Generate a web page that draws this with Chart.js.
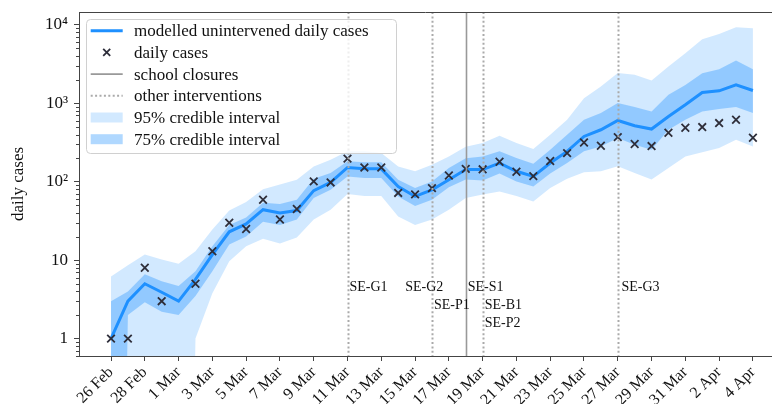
<!DOCTYPE html>
<html>
<head>
<meta charset="utf-8">
<script src="https://cdn.jsdelivr.net/npm/chart.js@4.4.1/dist/chart.umd.min.js"></script>
<style>
  html, body { margin: 0; padding: 0; background: #ffffff; }
</style>
</head>
<body>
<canvas id="chart" width="772" height="404"></canvas>
<script>
// Days from 26 Feb to 4 Apr 2020 (x = day index)
const dates = [
  "26 Feb", "27 Feb", "28 Feb", "29 Feb",
  "1 Mar", "2 Mar", "3 Mar", "4 Mar", "5 Mar", "6 Mar", "7 Mar", "8 Mar",
  "9 Mar", "10 Mar", "11 Mar", "12 Mar", "13 Mar", "14 Mar", "15 Mar", "16 Mar",
  "17 Mar", "18 Mar", "19 Mar", "20 Mar", "21 Mar", "22 Mar", "23 Mar", "24 Mar",
  "25 Mar", "26 Mar", "27 Mar", "28 Mar", "29 Mar", "30 Mar", "31 Mar",
  "1 Apr", "2 Apr", "3 Apr", "4 Apr",
];
const xTickDays = [0, 2, 4, 6, 8, 10, 12, 14, 16, 18, 20, 22, 24, 26, 28, 30, 32, 34, 36, 38];

const yTicks = [1, 10, 100, 1000, 10000];
const yTickLabels = ["1", "10", "10²", "10³", "10⁴"];

// observed daily cases (0 = nothing shown on the log axis)
const dailyCases = [
  1, 1, 8, 3, 0, 5, 13, 30, 25, 59, 33, 45, 101, 98, 197, 152, 152, 72, 69, 83,
  120, 146, 144, 180, 134, 118, 184, 232, 317, 288, 371, 303, 285, 421, 488, 498,
  560, 617, 364,
];

// modelled unintervened daily cases (median)
const modelMedian = [
  1.0, 3.0, 5.0, 3.9, 3.0, 5.7, 11.8, 23, 29, 44, 40, 43, 77, 98, 152, 146, 146, 87, 65, 79,
  106, 143, 143, 173, 136, 117, 173, 244, 378, 460, 604, 517, 470, 680, 957, 1371,
  1442, 1718, 1455,
];

// 75% credible interval
const ci75Upper = [
  3.0, 4.0, 6.6, 5.4, 4.7, 7.2, 15, 28, 35, 54, 52, 59, 109, 129, 182, 177, 177, 106, 83, 101,
  150, 200, 210, 244, 201, 170, 256, 398, 617, 750, 1006, 895, 787, 1282, 1718, 2421,
  2723, 3508, 2723,
];
const ci75Lower = [
  0, 2.0, 2.9, 2.2, 2.0, 3.5, 7.2, 15.8, 20, 31, 28, 33, 62, 79, 117, 112, 112, 65, 49, 59,
  85, 107, 104, 127, 101, 87, 127, 173, 244, 282, 361, 297, 256, 460, 617, 787,
  844, 895, 750,
];

// 95% credible interval
const ci95Upper = [
  6.2, 8.6, 11.8, 10.2, 9.0, 13, 24.6, 43, 55, 80, 92, 106, 157, 191, 244, 244, 232, 157, 136, 165,
  210, 280, 312, 386, 312, 261, 398, 617, 1164, 1636, 2440, 2306, 1950, 2938, 4355, 6560,
  7660, 9330, 9060,
];
const ci95Lower = [
  0, 0, 0, 0, 0, 1.0, 3.8, 9.7, 15, 18.7, 16.3, 19.5, 33, 44, 70, 66, 66, 36, 28, 33,
  44, 62, 69, 75, 66, 56, 83, 109, 132, 136, 158, 129, 107, 150, 210, 237, 269, 343, 282,
];

// interventions
const interventionLineDays = [14, 19, 21, 22, 30];
const interventionLineKinds = ["other", "other", "school", "other", "other"];
const interventionLabels = ["SE-G1", "SE-G2", "SE-P1", "SE-S1", "SE-B1", "SE-P2", "SE-G3"];
const interventionLabelDays = [14, 17.3, 19, 21, 22, 22, 30.1];
const interventionLabelRows = [0, 0, 1, 0, 1, 2, 0];

const legendLabels = [
  "modelled unintervened daily cases",
  "daily cases",
  "school closures",
  "other interventions",
  "95% credible interval",
  "75% credible interval",
];

const SERIF = "'Liberation Serif', 'Times New Roman', 'DejaVu Serif', serif";
const BLUE = "#1e90ff";
const BAND95 = "rgba(30, 144, 255, 0.2)";
const BAND75 = "rgba(30, 144, 255, 0.35)";
const MARKER = "#2e2e3a";
const AXIS = "#444444";

// log axis: zero is clipped far below the axis, like matplotlib does
const ZERO_FLOOR = 1e-12;

function toPoints(values) {
  return values.map((v, i) => ({ x: i, y: v > 0 ? v : ZERO_FLOOR }));
}

// minor ticks on the log axis + top spine
const axisExtras = {
  id: "axisExtras",
  afterDraw(chart) {
    const { ctx, chartArea } = chart;
    const y = chart.scales.y;
    ctx.save();
    ctx.strokeStyle = AXIS;
    ctx.lineWidth = 1;
    ctx.beginPath();
    for (let e = -1; e <= 4; e++) {
      for (let k = 2; k <= 9; k++) {
        const v = k * Math.pow(10, e);
        if (v < y.min || v > y.max) continue;
        const py = Math.round(y.getPixelForValue(v)) + 0.5;
        ctx.moveTo(chartArea.left, py);
        ctx.lineTo(chartArea.left - 3, py);
      }
    }
    ctx.moveTo(chartArea.left, chartArea.top + 0.5);
    ctx.lineTo(chartArea.right, chartArea.top + 0.5);
    ctx.stroke();
    ctx.restore();
  },
};

// vertical intervention lines with their labels
const interventions = {
  id: "interventions",
  afterDatasetsDraw(chart) {
    const { ctx, chartArea } = chart;
    const xs = chart.scales.x;
    const ys = chart.scales.y;
    ctx.save();
    interventionLineDays.forEach((day, i) => {
      const px = Math.round(xs.getPixelForValue(day)) + 0.5;
      ctx.beginPath();
      if (interventionLineKinds[i] === "school") {
        ctx.setLineDash([]);
        ctx.strokeStyle = "#999999";
        ctx.lineWidth = 1.6;
      } else {
        ctx.setLineDash([2, 2.4]);
        ctx.strokeStyle = "#aaaaaa";
        ctx.lineWidth = 2;
      }
      ctx.moveTo(px, chartArea.top);
      ctx.lineTo(px, chartArea.bottom);
      ctx.stroke();
    });
    ctx.setLineDash([]);
    ctx.fillStyle = "#111111";
    ctx.font = "14px " + SERIF;
    ctx.textAlign = "left";
    ctx.textBaseline = "middle";
    const row0 = ys.getPixelForValue(4.5);
    interventionLabels.forEach((label, i) => {
      const px = xs.getPixelForValue(interventionLabelDays[i]) + 2;
      ctx.fillText(label, px, row0 + interventionLabelRows[i] * 17.8);
    });
    ctx.restore();
  },
};

// legend box drawn inside the plot, upper left
const insideLegend = {
  id: "insideLegend",
  afterDraw(chart) {
    const { ctx, chartArea } = chart;
    const left = chartArea.left + 7;
    const top = chartArea.top + 7;
    const w = 310;
    const h = 134;
    const rowH = 21.7;
    ctx.save();
    ctx.beginPath();
    ctx.roundRect(left + 0.5, top + 0.5, w, h, 4);
    ctx.fillStyle = "rgba(255, 255, 255, 0.8)";
    ctx.fill();
    ctx.strokeStyle = "#d0d0d0";
    ctx.lineWidth = 1;
    ctx.stroke();

    const hx0 = left + 4.7;
    const hx1 = left + 36.7;
    const hxc = (hx0 + hx1) / 2;
    legendLabels.forEach((label, i) => {
      const cy = top + 11.7 + i * rowH;
      ctx.setLineDash([]);
      if (i === 0) {
        ctx.strokeStyle = BLUE;
        ctx.lineWidth = 3;
        ctx.beginPath();
        ctx.moveTo(hx0, cy);
        ctx.lineTo(hx1, cy);
        ctx.stroke();
      } else if (i === 1) {
        ctx.strokeStyle = MARKER;
        ctx.lineWidth = 1.8;
        ctx.beginPath();
        ctx.moveTo(hxc - 3.5, cy - 3.5);
        ctx.lineTo(hxc + 3.5, cy + 3.5);
        ctx.moveTo(hxc - 3.5, cy + 3.5);
        ctx.lineTo(hxc + 3.5, cy - 3.5);
        ctx.stroke();
      } else if (i === 2) {
        ctx.strokeStyle = "#999999";
        ctx.lineWidth = 1.6;
        ctx.beginPath();
        ctx.moveTo(hx0, cy);
        ctx.lineTo(hx1, cy);
        ctx.stroke();
      } else if (i === 3) {
        ctx.strokeStyle = "#aaaaaa";
        ctx.lineWidth = 2;
        ctx.setLineDash([2, 2.4]);
        ctx.beginPath();
        ctx.moveTo(hx0, cy);
        ctx.lineTo(hx1, cy);
        ctx.stroke();
      } else {
        ctx.fillStyle = i === 4 ? BAND95 : BAND75;
        ctx.fillRect(hx0, cy - 5, hx1 - hx0, 10);
      }
      ctx.fillStyle = "#111111";
      ctx.font = "17px " + SERIF;
      ctx.textAlign = "left";
      ctx.textBaseline = "middle";
      ctx.fillText(label, left + 48, cy + 1);
    });
    ctx.restore();
  },
};

const ctx = document.getElementById("chart").getContext("2d");

new Chart(ctx, {
  type: "line",
  data: {
    datasets: [
      {
        label: "daily cases",
        data: dailyCases.map((v, i) => ({ x: i, y: v > 0 ? v : null })),
        showLine: false,
        pointStyle: "crossRot",
        pointRadius: 5.4,
        pointBorderWidth: 1.8,
        pointBorderColor: MARKER,
        pointBackgroundColor: MARKER,
      },
      {
        label: "modelled unintervened daily cases",
        data: toPoints(modelMedian),
        borderColor: BLUE,
        borderWidth: 3,
        pointRadius: 0,
        fill: false,
      },
      {
        label: "75% upper",
        data: toPoints(ci75Upper),
        borderWidth: 0,
        pointRadius: 0,
        backgroundColor: BAND75,
        fill: "+1",
      },
      {
        label: "75% lower",
        data: toPoints(ci75Lower),
        borderWidth: 0,
        pointRadius: 0,
        fill: false,
      },
      {
        label: "95% upper",
        data: toPoints(ci95Upper),
        borderWidth: 0,
        pointRadius: 0,
        backgroundColor: BAND95,
        fill: "+1",
      },
      {
        label: "95% lower",
        data: toPoints(ci95Lower),
        borderWidth: 0,
        pointRadius: 0,
        fill: false,
      },
    ],
  },
  options: {
    responsive: false,
    animation: false,
    devicePixelRatio: 1,
    layout: { autoPadding: false, padding: { top: 12, right: 0, bottom: 0, left: 0 } },
    elements: { line: { tension: 0 } },
    plugins: {
      legend: { display: false },
      tooltip: { enabled: false },
    },
    scales: {
      x: {
        type: "linear",
        min: -1.895,
        max: 39.13,
        afterBuildTicks: (scale) => {
          scale.ticks = xTickDays.map((d) => ({ value: d }));
        },
        ticks: {
          autoSkip: false,
          minRotation: 45,
          maxRotation: 45,
          padding: 2,
          color: "#111111",
          font: { family: SERIF, size: 16 },
          callback: (value) => dates[value],
        },
        grid: { drawOnChartArea: false, drawTicks: true, tickLength: 5, color: AXIS },
        border: { display: true, color: AXIS, width: 1 },
        afterFit: (scale) => {
          scale.height = 48;
          scale.paddingLeft = 0;
          scale.paddingRight = 0;
        },
      },
      y: {
        type: "logarithmic",
        min: 0.618,
        max: 14600,
        afterBuildTicks: (scale) => {
          scale.ticks = yTicks.map((v) => ({ value: v, major: true }));
        },
        ticks: {
          autoSkip: false,
          padding: 6,
          color: "#111111",
          font: { family: SERIF, size: 17 },
          callback: (value, index) => yTickLabels[index],
        },
        grid: { drawOnChartArea: false, drawTicks: true, tickLength: 5, color: AXIS },
        border: { display: true, color: AXIS, width: 1 },
        title: {
          display: true,
          text: "daily cases",
          color: "#111111",
          font: { family: SERIF, size: 17 },
          padding: { top: 8, bottom: 0 },
        },
        afterFit: (scale) => {
          scale.width = 79;
          scale.paddingTop = 0;
          scale.paddingBottom = 0;
        },
      },
    },
  },
  plugins: [axisExtras, interventions, insideLegend],
});
</script>
</body>
</html>
